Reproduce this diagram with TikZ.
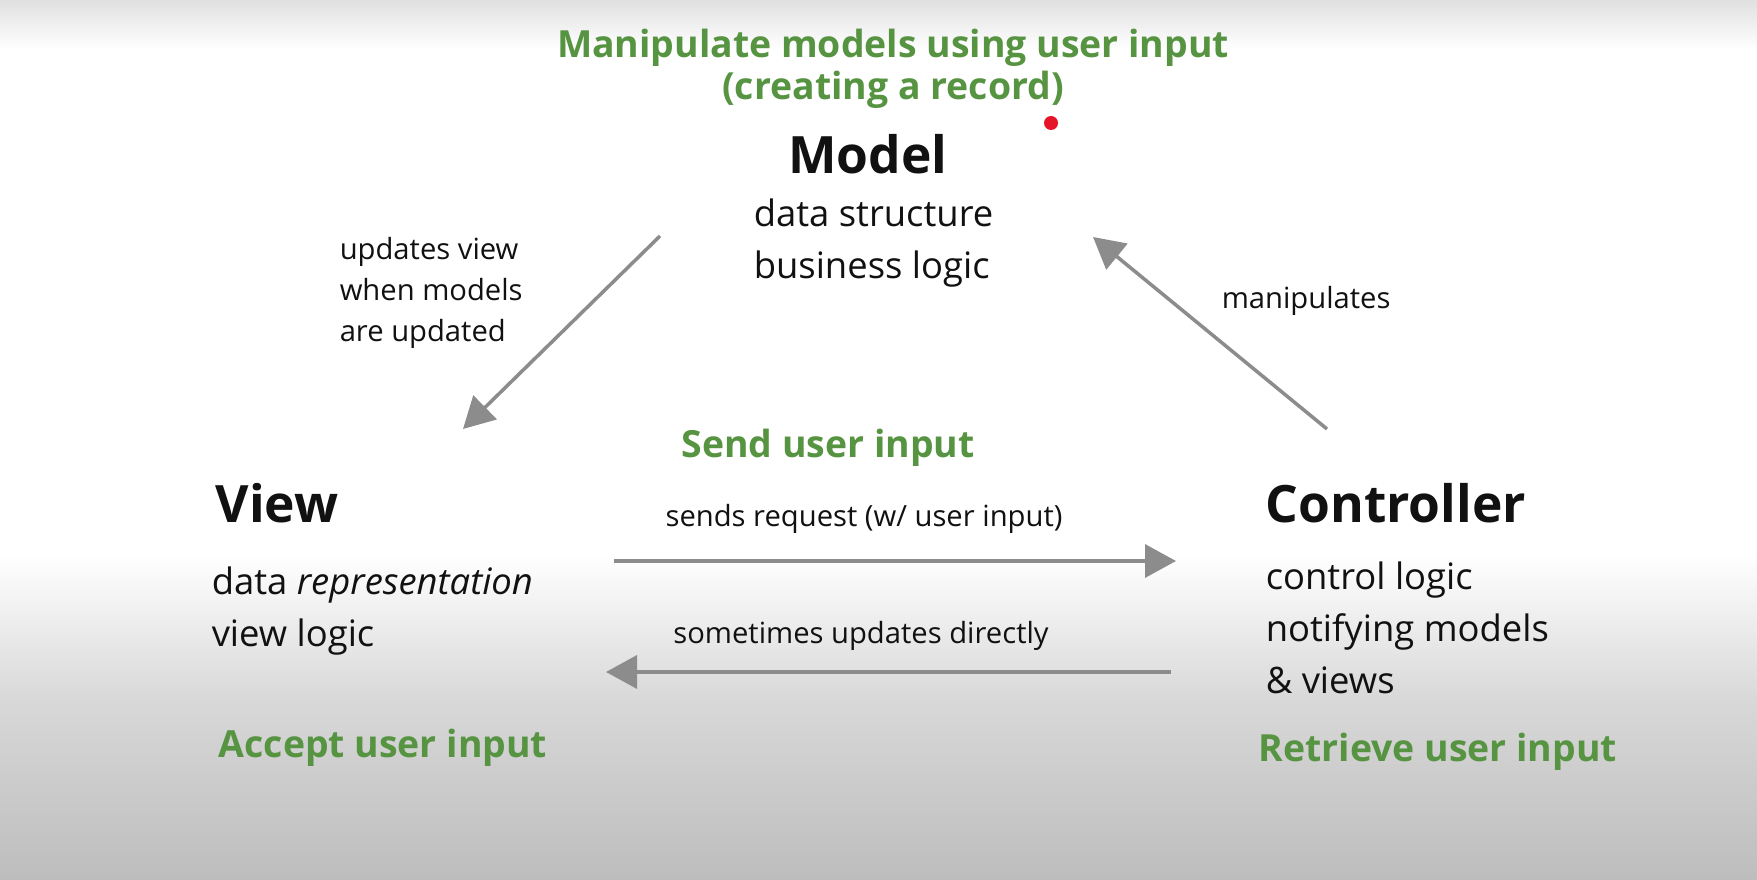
\documentclass[tikz,border=0pt]{standalone}
\usepackage{fontspec}
\setmainfont{Open Sans}
\usepackage{color}
\usepackage{tikz}
\usetikzlibrary{arrows.meta}

\definecolor{mvcgreen}{RGB}{86,148,66}
\definecolor{mvcgray}{RGB}{140,140,140}
\definecolor{mvcink}{RGB}{17,17,17}
\definecolor{bgtop}{RGB}{224,224,224}
\definecolor{bgmid}{RGB}{216,216,216}
\definecolor{bgbot}{RGB}{189,189,189}
\definecolor{dotred}{RGB}{230,20,40}
\pgfdeclareverticalshading{bgfade}{100bp}{color(0bp)=(bgbot); color(25bp)=(bgbot);
  color(35.2bp)=(bgmid); color(43.5bp)=(white); color(72.2bp)=(white);
  color(75bp)=(bgtop); color(100bp)=(bgtop)}

\begin{document}
\begin{tikzpicture}[x = 1pt, y = -1pt, line width = 3.5pt,
    title/.style = {font = \fontsize{51.5}{60}\selectfont\bfseries, text = mvcink, inner sep = 0pt},
    body/.style = {font = \fontsize{36.4}{52}\selectfont, text = mvcink, align = left, inner sep = 0pt},
    note/.style = {font = \fontsize{29.2}{41}\selectfont, text = mvcink, align = left, inner sep = 0pt},
    hint/.style = {font = \fontsize{37.4}{42}\selectfont\bfseries, text = mvcgreen, align = center, inner sep = 0pt},
    flow/.style = {draw = mvcgray, -{Triangle[length = 31pt, width = 33pt]}}]
\shade[shading = bgfade] (0,0) rectangle (1757,880);
\useasboundingbox (0,0) rectangle (1757,880);
\draw (893,69) node[hint](h1){Manipulate models using user input\\(creating a record)}
    (868,154) node[title](m1){Model}
    (752,243) node[body, anchor = west](m2){data structure\\business logic}
    (214,503) node[title, anchor = west](v1){View}
    (210,611) node[body, anchor = west](v2){data \textit{representation}\\view logic}
    (217,748) node[hint, anchor = west](v3){Accept user input}
    (1264,503) node[title, anchor = west](c1){Controller}
    (1264,628) node[body, anchor = west](c2){control logic\\notifying models\\\& views}
    (1257,752) node[hint, anchor = west](c3){Retrieve user input}
    (828,448) node[hint](s1){Send user input}
    (338,293) node[note, anchor = west](l1){updates view\\when models\\are updated}
    (1220,301) node[note, anchor = west](l2){manipulates}
    (864,519) node[note](l3){sends request (w/ user input)}
    (861,636) node[note](l4){sometimes updates directly};
\node[circle, fill = dotred, minimum size = 14pt, inner sep = 0pt] (dot) at (1051,123) {};
% arrow ends
\coordinate (mv1) at (660,236);
\coordinate (mv2) at (463,429);
\coordinate (cm1) at (1327,429);
\coordinate (cm2) at (1093,237);
\coordinate (vc1) at (614,561);
\coordinate (vc2) at (1176,561);
\coordinate (cv1) at (1171,672);
\coordinate (cv2) at (606,672);
\draw [flow] (mv1) -- (mv2);
\draw [flow] (cm1) -- (cm2);
\draw [flow] (vc1) -- (vc2);
\draw [flow] (cv1) -- (cv2);
\end{tikzpicture}
\end{document}
